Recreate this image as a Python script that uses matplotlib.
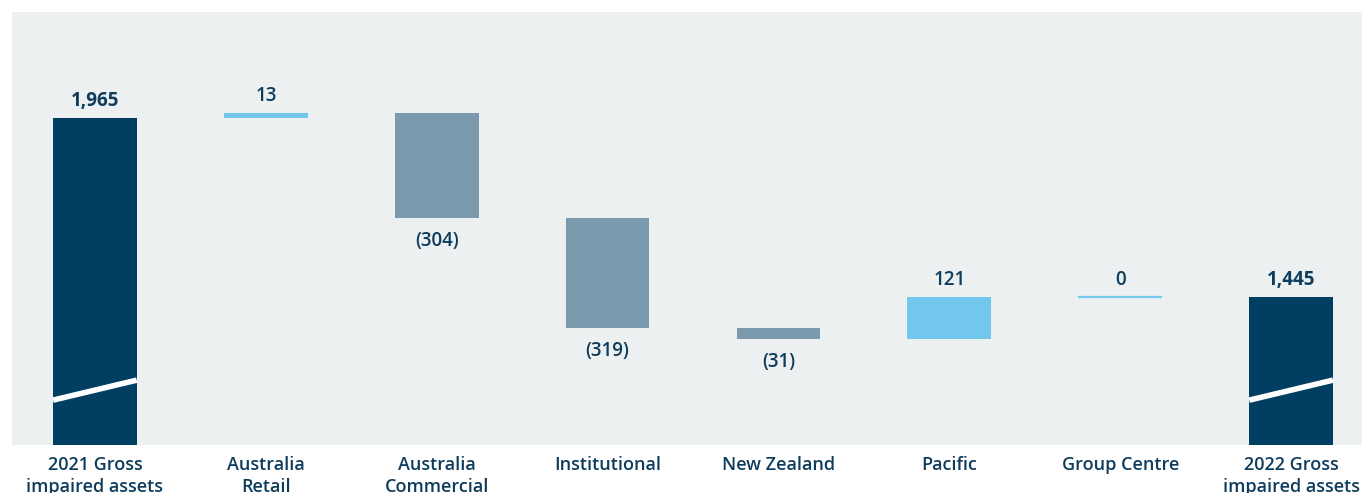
import matplotlib
matplotlib.use("Agg")
import matplotlib.pyplot as plt
import numpy as np

categories = ["2021 Gross\nimpaired assets", "Australia\nRetail", "Australia\nCommercial",
              "Institutional", "New Zealand", "Pacific", "Group Centre",
              "2022 Gross\nimpaired assets"]
values = [1965, 13, -304, -319, -31, 121, 0, 1445]
kinds = ["total", "delta", "delta", "delta", "delta", "delta", "delta", "total"]
labels = ["1,965", "13", "(304)", "(319)", "(31)", "121", "0", "1,445"]

NAVY = "#003F62"
LIGHT = "#73C6EC"
GREY = "#7B9AAE"
BG = "#ECF0F1"
TXT = "#0E3C5C"

plt.rcParams['font.family'] = ['Open Sans', 'DejaVu Sans']

fig = plt.figure(figsize=(13.62, 4.93), dpi=100)
ax = fig.add_axes([12/1362, 1-445/493, 1350/1362, 433/493])
ax.set_facecolor(BG)
for s in ax.spines.values():
    s.set_visible(False)
ax.set_xticks([])
ax.set_yticks([])

x = np.arange(len(categories))
w = 0.49
running = 0
for i, (v, k, lab) in enumerate(zip(values, kinds, labels)):
    if k == "total":
        ax.bar(x[i], v, width=w, bottom=0, color=NAVY, zorder=2)
        running = v
        top = v
        ax.annotate(lab, (x[i], top), xytext=(0, 5), textcoords="offset points",
                    ha="center", va="bottom", fontsize=13.5, fontweight="bold", color=TXT)
        # broken-scale slash
        ax.plot([x[i] - w/2, x[i] + w/2], [1147, 1205], color="white", lw=4,
                solid_capstyle="butt", zorder=3)
    else:
        start = running
        end = running + v
        lo, hi = min(start, end), max(start, end)
        color = LIGHT if v >= 0 else GREY
        if v == 0:
            ax.plot([x[i] - w/2, x[i] + w/2], [start, start], color=LIGHT, lw=1.6,
                    solid_capstyle="butt", zorder=2)
        else:
            ax.bar(x[i], hi - lo, width=w, bottom=lo, color=color, zorder=2)
        if v >= 0:
            ax.annotate(lab, (x[i], hi), xytext=(0, 5), textcoords="offset points",
                        ha="center", va="bottom", fontsize=13.5, fontweight="semibold", color=TXT)
        else:
            ax.annotate(lab, (x[i], lo), xytext=(0, -9), textcoords="offset points",
                        ha="center", va="top", fontsize=13.5, fontweight="semibold", color=TXT)
        running = end

ax.set_xlim(-0.485, 7.415)
ax.set_ylim(1017, 2272)

for i, c in enumerate(categories):
    ax.annotate(c, (x[i], 0), xycoords=("data", "axes fraction"), xytext=(0, -8),
                textcoords="offset points", ha="center", va="top", fontsize=13,
                fontweight="semibold", color=TXT, linespacing=1.25, annotation_clip=False)

fig.savefig("out.png", dpi=100)
